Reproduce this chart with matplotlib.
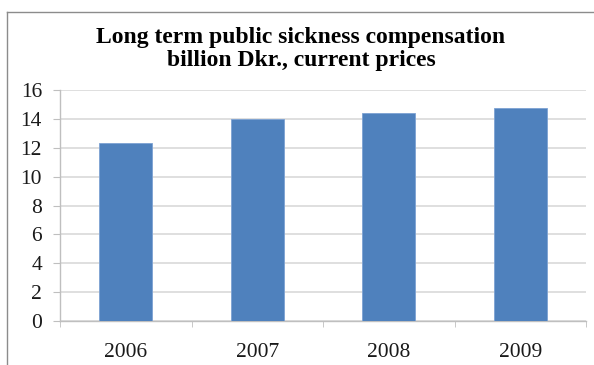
import matplotlib
matplotlib.use("Agg")
import matplotlib.pyplot as plt
from matplotlib.lines import Line2D

years = ["2006", "2007", "2008", "2009"]
compensation = [12.3, 14.0, 14.4, 14.75]
y_ticks = [0, 2, 4, 6, 8, 10, 12, 14, 16]

W, H = 594, 365
fig = plt.figure(figsize=(W / 100, H / 100), dpi=100)
fig.patch.set_facecolor("white")

# outer chart frame (top and left edges)
frame_color = "#8c8c8c"
fig.add_artist(Line2D([7 / W, 7 / W], [0, 1 - 12 / H], transform=fig.transFigure,
                      color=frame_color, lw=1.0))
fig.add_artist(Line2D([7 / W, 1], [1 - 12 / H, 1 - 12 / H], transform=fig.transFigure,
                      color=frame_color, lw=1.0))

left, right, top, bottom = 60, 586, 90, 321
ax = fig.add_axes([left / W, 1 - bottom / H, (right - left) / W, (bottom - top) / H])

x = list(range(len(years)))
ax.bar(x, compensation, width=0.4, color="#4F81BD", edgecolor="#7da2d3", linewidth=0.6, zorder=3)

ax.set_xlim(-0.5, len(years) - 0.5)
ax.set_ylim(0, 16)
ax.set_yticks(y_ticks)
ax.set_yticklabels([str(v) for v in y_ticks])
ax.set_xticks(x)
ax.set_xticklabels(years)
ax.set_xticks([i - 0.5 for i in range(len(years) + 1)], minor=True)

serif = "Liberation Serif"
for lab in ax.get_yticklabels() + ax.get_xticklabels():
    lab.set_fontfamily(serif)
    lab.set_fontsize(15.5)
    lab.set_color("#1a1a1a")

axis_color = "#bfbfbf"
ax.grid(axis="y", color="#d9d9d9", linewidth=1.2, zorder=0)
ax.tick_params(axis="y", length=5, color=axis_color, pad=8)
ax.tick_params(axis="x", which="major", length=0, pad=16)
ax.tick_params(axis="x", which="minor", length=4, color=axis_color, direction="out")
for s in ("top", "right"):
    ax.spines[s].set_visible(False)
for s in ("left", "bottom"):
    ax.spines[s].set_color(axis_color)
    ax.spines[s].set_linewidth(1.0)

fig.text(301 / W, 1 - 49 / H,
         "Long term public sickness compensation\nbillion Dkr., current prices",
         ha="center", va="center", fontfamily=serif, fontweight="bold",
         fontsize=17, linespacing=1.1, color="black")

fig.savefig("out.png", dpi=100)
